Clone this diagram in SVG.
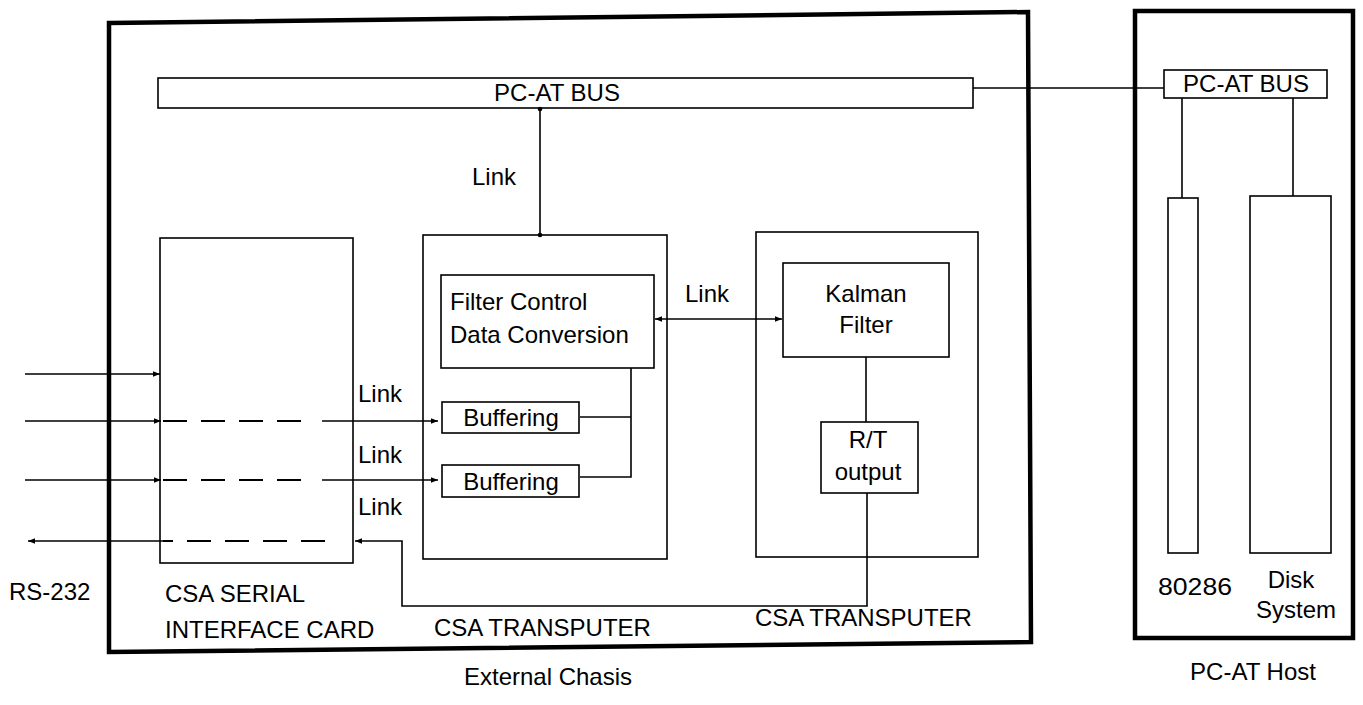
<svg xmlns="http://www.w3.org/2000/svg" width="1363" height="705" viewBox="0 0 1363 705">
<defs>
<style>
text{font-family:"Liberation Sans",Arial,Helvetica,sans-serif;font-size:24px;fill:#000}
.box{fill:none;stroke:#000;stroke-width:1.6}
.frame{fill:none;stroke:#000;stroke-width:4.5}
.ln{fill:none;stroke:#000;stroke-width:1.6}
.dash{fill:none;stroke:#000;stroke-width:1.8;stroke-dasharray:24 14}
.mid{text-anchor:middle}
</style>
<marker id="ah" viewBox="0 0 10 10" refX="10" refY="5" markerWidth="9" markerHeight="7" markerUnits="userSpaceOnUse" orient="auto-start-reverse">
<path d="M0,1 L10,5 L0,9 Z" fill="#000"/>
</marker>
</defs>
<rect width="1363" height="705" fill="#fff"/>

<g id="external-chassis">
<path class="frame" d="M109,23 L1028,12 L1031,642 L109,652 Z"/>
<text x="548" y="685" class="mid">External Chasis</text>
</g>

<g id="pc-at-bus-chassis">
<rect class="box" x="158" y="78" width="815" height="30"/>
<text x="557" y="101" class="mid">PC-AT BUS</text>
</g>

<g id="serial-card">
<rect class="box" x="160" y="238" width="193" height="325"/>
<text x="165" y="602">CSA SERIAL</text>
<text x="165" y="638">INTERFACE CARD</text>
</g>

<g id="transputer-1">
<rect class="box" x="423" y="235" width="244" height="324"/>
<text x="434" y="636">CSA TRANSPUTER</text>
</g>

<g id="filter-control">
<rect class="box" x="441" y="275" width="213" height="93"/>
<text x="450" y="310">Filter Control</text>
<text x="450" y="343">Data Conversion</text>
</g>

<g id="buffering-1">
<rect class="box" x="442" y="402" width="137" height="31"/>
<text x="511" y="426" class="mid">Buffering</text>
</g>

<g id="buffering-2">
<rect class="box" x="442" y="465" width="137" height="32"/>
<text x="511" y="490" class="mid">Buffering</text>
</g>

<g id="transputer-2">
<rect class="box" x="756" y="232" width="222" height="325"/>
<text x="755" y="626">CSA TRANSPUTER</text>
</g>

<g id="kalman-filter">
<rect class="box" x="783" y="263" width="166" height="94"/>
<text x="866" y="302" class="mid">Kalman</text>
<text x="866" y="333" class="mid">Filter</text>
</g>

<g id="rt-output">
<rect class="box" x="821" y="422" width="97" height="71"/>
<text x="868" y="448" class="mid">R/T</text>
<text x="868" y="480" class="mid">output</text>
</g>

<g id="pc-at-host">
<path class="frame" d="M1135,11 L1353,11 L1353,638 L1135,638 Z"/>
<text x="1253" y="680" class="mid">PC-AT Host</text>
</g>

<g id="pc-at-bus-host">
<rect class="box" x="1164" y="70" width="163" height="28"/>
<text x="1246" y="92" class="mid">PC-AT BUS</text>
</g>

<g id="cpu-80286">
<rect class="box" x="1168" y="198" width="30" height="355"/>
<text x="1158" y="595" textLength="74" lengthAdjust="spacingAndGlyphs">80286</text>
</g>

<g id="disk-system">
<rect class="box" x="1250" y="196" width="81" height="357"/>
<text x="1291" y="588" class="mid">Disk</text>
<text x="1296" y="618" class="mid">System</text>
</g>

<g id="connectors">
<!-- bus to transputer 1 -->
<line class="ln" x1="540" y1="108" x2="540" y2="235"/>
<circle cx="540" cy="109" r="2.3" fill="#000"/>
<circle cx="540" cy="235" r="2.3" fill="#000"/>
<text x="472" y="185">Link</text>
<!-- chassis bus to host bus -->
<line class="ln" x1="973" y1="88" x2="1164" y2="88"/>
<!-- host bus to 80286 and disk -->
<line class="ln" x1="1182" y1="98" x2="1182" y2="198"/>
<line class="ln" x1="1293" y1="98" x2="1293" y2="196"/>
<!-- filter control <-> kalman -->
<line class="ln" x1="655" y1="319" x2="782" y2="319" marker-start="url(#ah)" marker-end="url(#ah)"/>
<text x="685" y="302">Link</text>
<!-- kalman to R/T -->
<line class="ln" x1="866" y1="357" x2="866" y2="422"/>
<!-- filter control to buffers -->
<polyline class="ln" points="631,368 631,477 580,477"/>
<line class="ln" x1="580" y1="417" x2="631" y2="417"/>
<!-- input 1 -->
<line class="ln" x1="25" y1="374" x2="160" y2="374" marker-end="url(#ah)"/>
<!-- input 2 -->
<line class="ln" x1="25" y1="421" x2="161" y2="421" marker-end="url(#ah)"/>
<line class="dash" x1="163" y1="421" x2="315" y2="421"/>
<line class="ln" x1="322" y1="421" x2="438" y2="421" marker-end="url(#ah)"/>
<text x="358" y="402">Link</text>
<!-- input 3 -->
<line class="ln" x1="25" y1="480" x2="161" y2="480" marker-end="url(#ah)"/>
<line class="dash" x1="163" y1="480" x2="315" y2="480"/>
<line class="ln" x1="322" y1="480" x2="438" y2="480" marker-end="url(#ah)"/>
<text x="358" y="463">Link</text>
<!-- output path: R/T to serial card to RS-232 -->
<polyline class="ln" points="867,493 867,606 402,606 402,541 355,541" marker-end="url(#ah)"/>
<line class="dash" x1="325" y1="541" x2="163" y2="541"/>
<line class="ln" x1="163" y1="541" x2="28" y2="541" marker-end="url(#ah)"/>
<text x="358" y="515">Link</text>
<text x="9" y="600">RS-232</text>
</g>
</svg>
